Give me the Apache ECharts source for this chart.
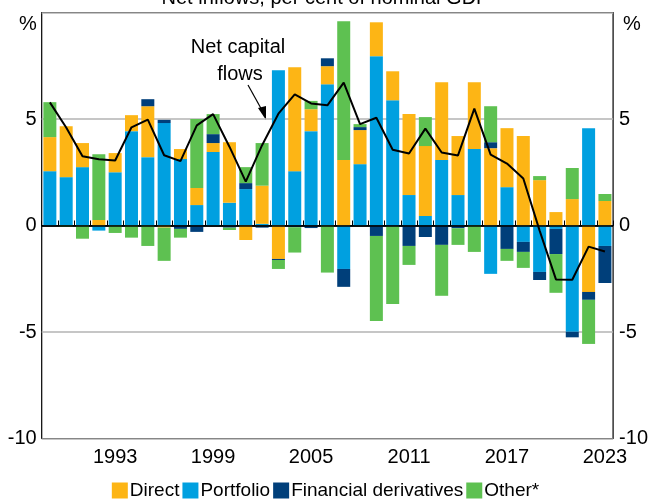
<!DOCTYPE html>
<html>
<head>
<meta charset="utf-8">
<script src="https://cdn.jsdelivr.net/npm/echarts@6/dist/echarts.min.js"></script>
<style>html,body{margin:0;padding:0;background:#fff}#c{width:651px;height:500px}</style>
</head>
<body>
<div id="c"></div>
<script>
var years = ['1989','1990','1991','1992','1993','1994','1995','1996','1997','1998','1999','2000','2001','2002','2003','2004','2005','2006','2007','2008','2009','2010','2011','2012','2013','2014','2015','2016','2017','2018','2019','2020','2021','2022','2023'];
var direct = [1.6,2.39,1.13,0.26,0.9,0.75,2.39,-0.1,0.47,0.8,0.42,2.84,-0.68,1.79,-1.57,4.88,1.03,0.85,3.07,1.6,1.59,1.36,3.8,3.28,3.66,2.77,3.14,3.63,2.77,4.2,2.13,0.63,1.24,-3.12,1.15];
var portfolio = [2.55,2.27,2.74,-0.24,2.5,4.43,3.21,4.81,3.12,0.96,3.45,1.07,1.71,0.08,7.29,2.55,4.43,6.63,-2.04,2.88,7.95,5.88,1.43,0.45,3.07,1.43,3.59,-2.27,1.8,-0.77,-2.18,-0.16,-4.99,4.57,-0.96];
var derivatives = [0,0,0,0,0,0,0.33,0.15,-0.16,-0.3,0.42,-0.1,0.28,-0.1,-0.05,-0.08,-0.12,0.37,-0.84,0.14,-0.49,-0.04,-0.96,-0.54,-0.91,-0.13,0,0.28,-1.1,-0.47,-0.38,-1.18,-0.26,-0.37,-1.74];
var other = [1.64,-0.06,-0.62,3.09,-0.35,-0.57,-0.96,-1.56,-0.41,3.24,0.94,-0.11,0.75,2.0,-0.42,-1.19,0.39,-2.21,6.52,0.14,-3.99,-3.64,-0.89,1.36,-2.39,-0.78,-1.24,1.69,-0.56,-0.75,0.19,-1.82,1.46,-2.07,0.33];
var netFlows = [5.78,4.6,3.25,3.11,3.05,4.61,4.97,3.3,3.02,4.7,5.23,3.7,2.06,3.77,5.25,6.16,5.73,5.64,6.71,4.76,5.06,3.56,3.38,4.55,3.43,3.29,5.49,3.33,2.91,2.21,-0.24,-2.53,-2.55,-0.99,-1.22];
var yTicks = [-10,-5,0,5,10];
var labelYears = ['1993','1999','2005','2011','2017','2023'];

var FONT = 'Liberation Sans, Arial, sans-serif';
var chart = echarts.init(document.getElementById('c'), null, {renderer:'canvas'});
function barSeries(name, data, color) {
  return {name:name, type:'bar', stack:'flows', data:data, barWidth:13,
    itemStyle:{color:color}, emphasis:{disabled:true}};
}
var yAxisBase = function(pos, margin) {
  return {type:'value', position:pos, min:yTicks[0], max:yTicks[yTicks.length-1], interval:5,
    axisLine:{show:false}, axisTick:{show:false},
    axisLabel:{margin:margin, fontSize:20, color:'#000', fontFamily:FONT,
      formatter:function(v){return v===10?'':String(v);}},
    splitLine:{show:pos==='left', lineStyle:{color:['#b3b3b3','#b3b3b3','#000','#b3b3b3','#b3b3b3'], width:1.5}}};
};
chart.setOption({
  animation:false,
  grid:{left:41.7, right:34, top:12.5, bottom:61.5, show:true, borderColor:'#000', borderWidth:1.2, containLabel:false},
  legend:{bottom:-5, left:'center', itemWidth:16, itemHeight:16, itemGap:3,
    icon:'rect', data:['Direct','Portfolio','Financial derivatives','Other*'],
    textStyle:{fontSize:19, color:'#000', fontFamily:FONT, padding:[0,0,0,-3]}},
  xAxis:{type:'category', data:years, boundaryGap:true,
    axisLine:{show:true, lineStyle:{color:'#000', width:1.2}},
    axisTick:{show:true, inside:true, length:5, interval:0, lineStyle:{color:'#000'}},
    axisLabel:{interval:0, margin:9, fontSize:20, color:'#000', fontFamily:FONT,
      formatter:function(v){return labelYears.indexOf(v)>=0?v:'';}},
    splitLine:{show:false}},
  yAxis:[yAxisBase('left',5), yAxisBase('right',6)],
  series:[
    barSeries('Portfolio', portfolio, '#00A0E0'),
    barSeries('Direct', direct, '#FDB515'),
    barSeries('Financial derivatives', derivatives, '#003F7A'),
    barSeries('Other*', other, '#5EC151'),
    {name:'Net capital flows', type:'line', data:netFlows, symbol:'none', z:10,
      lineStyle:{color:'#000', width:2}, itemStyle:{color:'#000'},
      markLine:{silent:true, symbol:'none', label:{show:false}, data:[{yAxis:0}],
        lineStyle:{color:'#000', width:1.5, type:'solid'}}}
  ],
  graphic:[
    {type:'text', left:'center', top:-12, style:{text:'Net inflows, per cent of nominal GDP', fontSize:20, fill:'#000', fontFamily:FONT}},
    {type:'text', x:28, y:24, style:{text:'%', fontSize:20, fill:'#000', fontFamily:FONT, textAlign:'center', textVerticalAlign:'middle'}},
    {type:'text', x:632, y:24, style:{text:'%', fontSize:20, fill:'#000', fontFamily:FONT, textAlign:'center', textVerticalAlign:'middle'}},
    {type:'text', x:238, y:47, style:{text:'Net capital', fontSize:20, fill:'#000', fontFamily:FONT, textAlign:'center', textVerticalAlign:'middle'}},
    {type:'text', x:240, y:74, style:{text:'flows', fontSize:20, fill:'#000', fontFamily:FONT, textAlign:'center', textVerticalAlign:'middle'}},
    {type:'line', shape:{x1:248, y1:85, x2:263, y2:112}, style:{stroke:'#000', lineWidth:1.2}},
    {type:'polygon', shape:{points:[[266,120],[258,108],[266,106]]}, style:{fill:'#000'}}
  ]
});
</script>
</body>
</html>
